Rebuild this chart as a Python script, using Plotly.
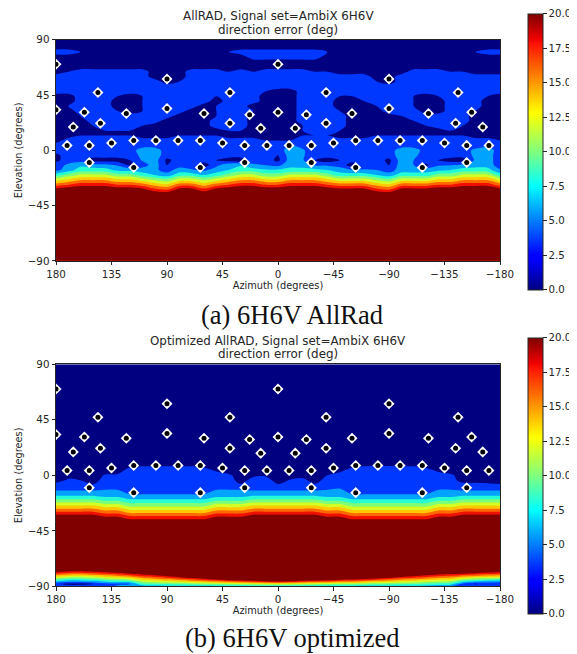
import plotly.graph_objects as go

W, H = 569, 646   # the page adds 8 px of body margin on the left and on top
azimuth = [180,170,160,150,140,130,120,110,100,90,80,70,60,50,40,30,20,10,0,-10,-20,-30,-40,-50,-60,-70,-80,-90,-100,-110,-120,-130,-140,-150,-160,-170,-180]
elev_a = [90,84,80,76,72,68,64,60,56,52,48,44,40,36,32,28,24,20,16,12,8,4,0,-4,-8,-12,-16,-20,-24,-28,-32,-36,-40,-89.9,-90]
elev_b = [90,12,8,4,0,-4,-8,-12,-16,-20,-24,-28,-32,-36,-40,-70,-76,-78,-80,-82,-84,-86,-88,-90]

err_a = [
[1]*37,
[1]*37,
[3,3,2,1,1,1,1,1,1,1,1,1,1,1,2,3,3,3,3,3,3,3,2,1,1,1,1,1,1,1,1,1,1,1,2,3,3],
[1]*16+[3]*6+[1]*15,
[1]*37,
[1]*37,
[1,2,3,3,3,3,3,3,1,1,1,3,3,3,2,3,2,3,3,3,3,2,2,1,1,1,1,1,1,3,3,3,2,2,1,1,1],
[3]*8+[1]*3+[3]*15+[1]*2+[3]*9,
[3,3,3,3,3,3,3,3,3,1,2,3,3,3,3,3,3,3,3,3,3,3,3,3,3,3,2,1,3,3,3,3,3,3,3,3,3],
[3]*37,
[3,3,3,3,3,3,3,3,3,3,3,3,3,3,3,3,3,2,1,1,3,3,3,3,3,3,3,3,3,3,3,3,3,3,3,3,3],
[1,1,3,3,3,2,1,2,3,3,3,3,3,2,3,3,3,1,1,1,3,3,3,2,2,3,3,3,3,2,1,2,3,3,3,2,1],
[1,1,3,3,3,1,1,2,3,3,3,3,3,1,3,3,3,1,1,1,3,3,3,1,1,2,3,3,3,2,1,1,3,3,3,1,1],
[1,2,3,3,3,1,1,2,3,3,3,3,1,2,3,3,1,1,1,1,3,3,3,1,1,1,2,3,3,2,1,1,3,3,3,1,1],
[1,1,3,3,3,2,1,2,3,3,3,1,1,2,3,3,2,1,1,1,3,3,3,2,1,1,1,3,3,3,1,1,3,3,2,1,1],
[1,1,2,3,3,3,3,3,3,3,1,1,1,2,3,3,1,1,1,1,3,3,3,3,1,1,1,1,2,3,3,3,3,3,1,1,1],
[1,1,1,3,3,3,3,3,3,1,1,1,1,3,3,3,1,1,1,1,3,3,3,3,1,1,1,1,1,2,3,3,3,3,1,1,1],
[1,1,1,2,3,3,3,2,1,1,1,1,1,3,3,3,1,1,1,1,2,3,3,3,1,1,1,1,1,1,2,3,3,2,1,1,1],
[1,1,1,1,2,2,2,1,1,1,1,1,1,1,2,2,1,1,1,1,2,3,3,2,1,1,1,1,1,1,1,1,2,1,1,1,1],
[1,1,2,2,2,2,2,1,1,1,2,2,2,2,1,1,1,1,1,1,2,2,2,1,1,1,2,2,2,2,2,2,2,2,1,1,1],
[1,3,3,3,3,3,3,3,3,3,3,3,3,3,3,3,3,2,2,2,3,3,3,3,3,3,3,3,3,3,3,3,3,3,3,3,2],
[3,3,3,3,3,3,3,3,3,3,3,3,3,3,3,3,3,3,3,4,3.5,3,3,3,3,3,3,3,3,3,3,3,3,3,3,3.5,3],
[3,3,3,3,3,3,3,5,5,3,3,3,3,3,3,3,3,3,3,5,4.2,3,3,3,3,3,3,3,5,5,3,3,3,3,4.5,5,3],
[1.5,3,3,3,3,3,3,4.5,5,3,3,3,3,3,3,3,3,3,2,5,4.2,3,3,3,3,3,3,3,5,4.5,3,3,3,3,4.4,4.8,3],
[1.5,3,3,1,1,1,2,4.2,5,1.5,3,3,3,2,1,1,3,3,1.5,5,4.2,2,1,2,3,3,3,1.5,5,4,3,2,1,1,4.4,4.8,3],
[3,4.4,5.6,4.8,4.6,3.7,1.5,3,5,2,3,3,1,3.4,5.3,5.8,4.4,3.9,3.4,5.5,5,3.9,3.7,3.2,1,3,3,2,5,4,1.5,3.7,3.9,4.6,5,5,3],
[3.4,5,6.9,6.9,6.7,5.5,5.2,5,4.5,3,5,4.2,3.6,5,6,6.9,6.9,6.2,6.2,6.5,6.8,6.5,6,5,4.2,4.2,4,3,5,5,5,5.5,6,6.9,7,6.8,4.2],
[7,8.8,10.3,10.3,10.3,8.8,8.8,7,6,5,7,7,6,7,8.8,10.3,10.3,8.8,8.8,10.3,10.3,10.3,8.8,7,7,7,6,5,7,7,7,8.8,8.8,10.3,10.3,10.3,7],
[11,12.4,13.7,13.7,13.7,12.4,12.4,11,9.6,8.7,11,11,9.6,11,12.4,13.7,13.7,12.4,12.4,13.7,13.7,13.7,12.4,11,11,11,9.6,8.7,11,11,11,12.4,12.4,13.7,13.7,13.7,11],
[15,16,17.1,17.1,17.1,16,16,15,13.2,12.4,15,15,13.2,15,16,17.1,17.1,16,16,17.1,17.1,17.1,16,15,15,15,13.2,12.4,15,15,15,16,16,17.1,17.1,17.1,15],
[19,19.8,20.6,20.6,20.6,19.8,19.8,19,16.8,16,19,19,16.8,19,19.8,20.6,20.6,19.8,19.8,20.6,20.6,20.6,19.8,19,19,19,16.8,16,19,19,19,19.8,19.8,20.6,20.6,20.6,19],
[22,22,22,22,22,22,22,22,20.4,20.2,22,22,20.4,22,22,22,22,22,22,22,22,22,22,22,22,22,20.4,20.2,22,22,22,22,22,22,22,22,22],
[22]*37,
[22]*37,
[1]*37,
]

err_b = [
[1]*37,
[1]*37,
[1,1,1,1,1,1,1.3,1.8,1.8,1.8,1.8,1.8,1.3,1,1,1,1,1,1,1,1,1,1,1,1.3,1.8,1.9,1.9,1.8,1.8,1,1,1,1,1,1,1],
[1,1,1,1,1,1,3,3,3,3,3,3,3,1.7,1,1,1,1,1,1,1,1,1,1.4,3,3,3,3,3,3,3,1.5,1,1,1,1,1],
[1,1.2,1,1,2.2,2.4,3,3,3,3,3,3,3,3,2.4,1,1.5,1.7,1,1,1.3,1,2,3,3,3,3,3,3,3,3,3,2.4,1,1,1,1],
[1,2.4,2,1,3,3,3,3,3,3,3,3,3,3,3,1,3,3,1,2.2,2.6,1,3,3,3,3,3,3,3,3,3,3,3,1,1,1,1],
[3,3,3,2.2,3,3,3,3,3,3,3,3,3,3,3,2.3,3,3,2.3,3,3,2.3,3,3,3,3,3,3,3,3,3,3,3,3,3,2.7,2.3],
[3.9,3.9,3.9,3.9,4.1,4.1,3,3,3,3,3,3,3,4.1,4.1,4.1,3.9,3.9,3.9,3.9,3.9,3.9,4.1,4.5,3,3,3,3,3,3,3,4.1,4.1,3.9,3.9,3.9,3.9],
[5.6,5.6,5.6,5.6,5,5,4.2,4.2,4.2,4.2,4.2,4.2,4.2,5,5,5,5.6,5.6,5.6,5.6,5.6,5.6,5,5,4.2,4.2,4.2,4.2,4.2,4.2,4.2,5,5,5.6,5.6,5.6,5.6],
[8.4,8.4,8.4,8.4,7.5,7.5,6.4,6.4,6.4,6.4,6.4,6.4,6.4,7.5,7.5,7.5,8.4,8.4,8.4,8.4,8.4,8.4,7.5,7.5,6.4,6.4,6.4,6.4,6.4,6.4,6.4,7.5,7.5,8.4,8.4,8.4,8.4],
[11.6,11.6,11.6,11.6,10.6,10.6,9,9,9,9,9,9,9,10.6,10.6,10.6,11.6,11.6,11.6,11.6,11.6,11.6,10.6,10.6,9,9,9,9,9,9,9,10.6,10.6,11.6,11.6,11.6,11.6],
[14.8,14.8,14.8,14.8,13.7,13.7,12,12,12,12,12,12,12,13.7,13.7,13.7,14.8,14.8,14.8,14.8,14.8,14.8,13.7,13.7,12,12,12,12,12,12,12,13.7,13.7,14.8,14.8,14.8,14.8],
[18.2,18.2,18.2,18.2,16.8,16.8,15.2,15.2,15.2,15.2,15.2,15.2,15.2,16.8,16.8,16.8,18.2,18.2,18.2,18.2,18.2,18.2,16.8,16.8,15.2,15.2,15.2,15.2,15.2,15.2,15.2,16.8,16.8,18.2,18.2,18.2,18.2],
[21,21,21,21,20,20,18.4,18.4,18.4,18.4,18.4,18.4,18.4,20,20,20,21,21,21,21,21,21,20,20,18.4,18.4,18.4,18.4,18.4,18.4,18.4,20,20,21,21,21,21],
[22,22,22,22,22,22,21,21,21,21,21,21,21,22,22,22,22,22,22,22,22,22,22,22,21,21,21,21,21,21,21,22,22,22,22,22,22],
[22]*37,
[22,21,21]+[22]*34,
[18.8,17.7,17.4,18.2,18.8,19.6,20.9,21]+[22]*24+[20.8,21,20.4,19.3,18.6],
[15.5,14.4,14.2,14.8,15.6,16.4,17.5,18.5,19.4,20.6]+[22]*18+[21.9,20.7,19.5,18.4,18,17.5,16.7,16,15.5],
[12.3,11.1,11,11.6,12.5,13.2,14.1,15.7,16.6,17.5,18.9,20.3,21.8]+[22]*13+[21,19.9,18.5,17.5,16.5,15.6,15.2,13.9,13,12.7,12.3],
[9,7.8,7.8,8.4,9.3,10,10.6,12.9,13.7,14.4,15.4,16.5,17.6,18.7,20.3,21.2,22,22,22,22,22,21.2,20.5,19.2,18.9,18,17,16.1,15.1,14.4,13.6,12.8,12.4,10.3,9.3,9,8.5],
[5.7,4.6,4.6,5.2,6.2,6.7,7.2,10.1,10.8,11.3,11.9,12.7,13.4,14.1,15.2,15.8,16.5,17.4,18,17.4,16.5,15.8,15.4,14.5,14.3,13.7,13,12.4,11.7,11.3,10.6,10,9.6,6.7,5.6,4.6,4.4],
[2.4,1.5,1.5,2,3,3.5,3.8,7.4,7.9,8.1,8.5,8.8,9.2,9.6,10.1,10.4,10.8,11.2,11.5,11.2,10.8,10.4,10.2,9.7,9.6,9.3,9,8.7,8.4,8.1,7.7,7.2,6.8,3.2,1.8,3,3],
[3,3,3,3,3.5,4.5,5,4.6]+[5]*22+[4.8,4.4,4,3.5,3,3,3],
]

speaker_az = [180,90,0,146,39,180,157,123,90,60,23,0,144,39,166,14,171,153,135,117,99,81,63,45,27,9,-9,153,117,63,27,
              -90,-39,-146,-90,-23,-60,-122,-157,-39,-144,-14,-166,-27,-45,-63,-81,-99,-117,-135,-153,-171,-27,-63,-117,-153]
speaker_el = [70,58,70,47,47,33,31,30,34,30,29,31,22,22,19,18,4,4,6,8,8,8,8,6,4,4,4,-10,-14,-14,-10,
              58,47,47,34,29,30,30,31,22,22,18,19,4,6,8,8,8,8,6,4,4,-10,-14,-14,-10]

title_lines = [["AllRAD, Signal set=AmbiX 6H6V", "direction error (deg)"],
               ["Optimized AllRAD, Signal set=AmbiX 6H6V", "direction error (deg)"]]
captions = ["(a) 6H6V AllRad", "(b) 6H6V optimized"]
az_ticks = [180,135,90,45,0,-45,-90,-135,-180]
el_ticks = [90,45,0,-45,-90]
cb_ticks = [0,2.5,5,7.5,10,12.5,15,17.5,20]

band_colors = ["#000080","#0038ff","#00a4ff","#24ffd4","#7dff7a","#d4ff24","#ffc800","#ff6800","#f01000","#800000"]
jet = [[0,"#00007f"],[0.11,"#0000ff"],[0.125,"#0000ff"],[0.35,"#00e0ff"],[0.375,"#00ffff"],[0.5,"#7fff7f"],[0.64,"#ffff00"],[0.66,"#ffee00"],[0.89,"#ff1400"],[0.91,"#ee0000"],[1,"#7f0000"]]
band_scale = [[i/9, c] for i, c in enumerate(band_colors)]

FONT = "DejaVu Sans"
INK = "#262626"
OFF = 8
L, R, T, B = 56-OFF, 500-OFF, 0, 630-OFF
px = lambda v: (v - OFF - L) / (R - L)
# plotly pushes the top margin slightly for the colorbars; this maps a wanted page y to the y to ask for
correct = lambda v: (v - 4.64) / 0.99634
py = lambda v: (B - (correct(v) - OFF)) / (B - T)

panels = [
    dict(z=err_a, y=elev_a, top=38.5, bot=261, cb_top=12.5, cb_bot=288, cap=315, t1=15, t2=29, suffix=""),
    dict(z=err_b, y=elev_b, top=365, bot=588.5, cb_top=338.2, cb_bot=614.2, cap=640, t1=341.6, t2=355, suffix="2"),
]

fig = go.Figure()
layout = dict(width=W, height=H, margin=dict(l=L, r=W-R, t=T, b=H-B, pad=0), paper_bgcolor="white",
              plot_bgcolor="white", showlegend=False, font=dict(family=FONT, size=10, color=INK))
annotations = []

for i, p in enumerate(panels):
    xa, ya = "x" + p["suffix"], "y" + p["suffix"]
    fig.add_trace(go.Contour(x=azimuth, y=p["y"], z=p["z"], xaxis=xa, yaxis=ya,
                             contours=dict(coloring="fill", start=2, end=18, size=2, showlines=False),
                             line=dict(width=0), colorscale=band_scale, showscale=False,
                             hoverinfo="skip"))
    fig.add_trace(go.Scatter(x=speaker_az, y=speaker_el, xaxis=xa, yaxis=ya, mode="markers",
                             marker=dict(symbol="diamond", size=8.5, color="white"), hoverinfo="skip"))
    fig.add_trace(go.Scatter(x=speaker_az, y=speaker_el, xaxis=xa, yaxis=ya, mode="markers",
                             marker=dict(symbol="circle", size=5, color="black"), hoverinfo="skip"))
    fig.add_trace(go.Scatter(x=[None], y=[None], xaxis=xa, yaxis=ya, mode="markers", hoverinfo="skip",
                             marker=dict(color=[0, 20], cmin=0, cmax=20, colorscale=jet, showscale=True, opacity=0,
                                         colorbar=dict(xref="container", x=(527.5-OFF)/W, xanchor="left", xpad=0, ypad=0,
                                                       y=py(p["cb_top"]), yanchor="top",
                                                       len=(p["cb_bot"] - p["cb_top"]) / (B - T) * 1.01, lenmode="fraction",
                                                       thickness=14.5, thicknessmode="pixels",
                                                       tickvals=cb_ticks, ticktext=[f"{t:.1f}" for t in cb_ticks],
                                                       ticks="outside", ticklen=3.5, tickwidth=1, tickcolor=INK,
                                                       tickfont=dict(family=FONT, size=10.2, color=INK),
                                                       outlinewidth=1, outlinecolor=INK))))
    layout["xaxis" + p["suffix"]] = dict(domain=[0, 1], range=[180, -180], anchor=ya,
        tickvals=az_ticks, ticks="outside", ticklen=3.5, tickwidth=1, tickcolor=INK, showgrid=False, zeroline=False,
        showline=True, mirror=True, linecolor=INK, linewidth=1, tickfont=dict(family=FONT, size=10.3, color=INK),
        title=dict(text="Azimuth (degrees)", font=dict(family=FONT, size=9.8, color=INK), standoff=2))
    layout["yaxis" + p["suffix"]] = dict(domain=[py(p["bot"]), py(p["top"])], range=[-90, 90], anchor=xa,
        tickvals=el_ticks, ticks="outside", ticklen=3.5, tickwidth=1, tickcolor=INK, showgrid=False, zeroline=False,
        showline=True, mirror=True, linecolor=INK, linewidth=1, tickfont=dict(family=FONT, size=10.3, color=INK),
        title=dict(text="Elevation (degrees)", font=dict(family=FONT, size=9.8, color=INK), standoff=3))
    for line, yc in zip(title_lines[i], (p["t1"], p["t2"])):
        annotations.append(dict(text=line, x=px(278), y=py(yc), xref="paper", yref="paper",
                                xanchor="center", yanchor="middle", showarrow=False,
                                font=dict(family=FONT, size=11.9, color=INK)))
    annotations.append(dict(text=captions[i], x=px(292), y=py(p["cap"]), xref="paper", yref="paper",
                            xanchor="center", yanchor="middle", showarrow=False,
                            font=dict(family="Liberation Serif", size=26.5, color="#111111")))

layout["annotations"] = annotations
fig.update_layout(**layout)
fig.write_html("out.html")
